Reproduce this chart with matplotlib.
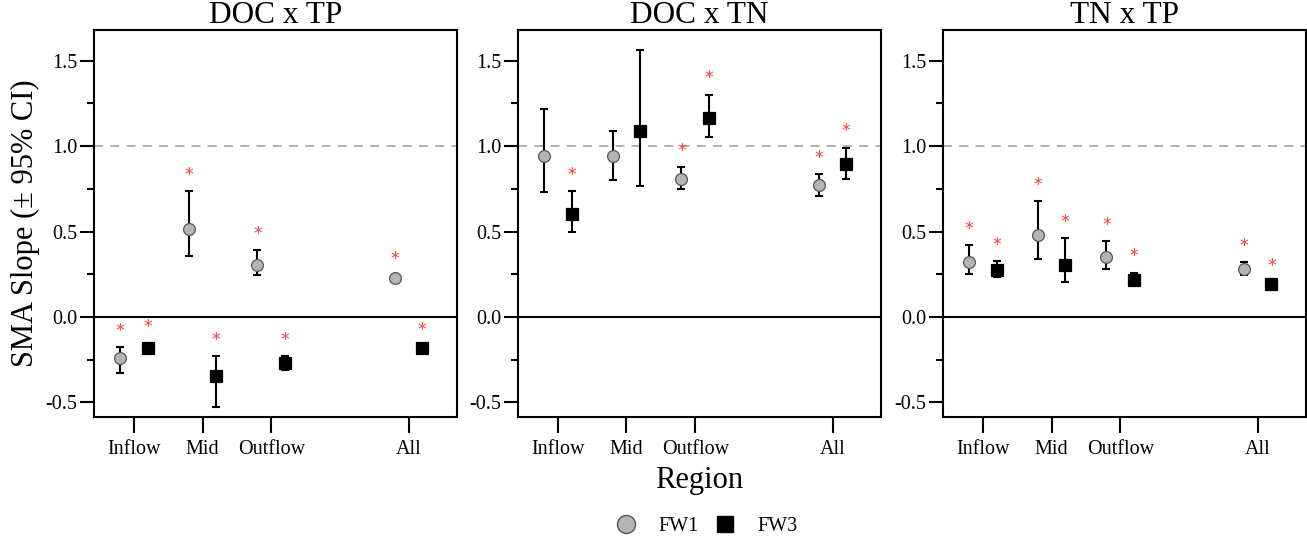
import numpy as np
import matplotlib.pyplot as plt
from matplotlib.lines import Line2D
from matplotlib.ticker import MultipleLocator

# --- DATOS ---
REGIONES = ['Inflow', 'Mid', 'Outflow', 'All']
POS_X = [1, 2, 3, 5]
PANELES = ['DOC x TP', 'DOC x TN', 'TN x TP']

# pendiente, límite inferior, límite superior (IC 95%), significancia
fw1_slope = [[-0.238, 0.516, 0.302, 0.228],
             [0.945, 0.940, 0.809, 0.772],
             [0.322, 0.480, 0.351, 0.279]]
fw1_lo = [[-0.330, 0.360, 0.244, 0.210],
          [0.731, 0.803, 0.749, 0.709],
          [0.250, 0.341, 0.279, 0.246]]
fw1_hi = [[-0.174, 0.737, 0.392, 0.245],
          [1.216, 1.090, 0.879, 0.838],
          [0.423, 0.677, 0.446, 0.323]]
fw1_sig = [[1, 1, 1, 1],
           [0, 0, 1, 1],
           [1, 1, 1, 1]]

fw3_slope = [[-0.180, -0.345, -0.267, -0.183],
             [0.602, 1.090, 1.165, 0.893],
             [0.275, 0.304, 0.217, 0.192]]
fw3_lo = [[-0.200, -0.524, -0.310, -0.193],
          [0.495, 0.766, 1.053, 0.809],
          [0.232, 0.205, 0.200, 0.182]]
fw3_hi = [[-0.155, -0.228, -0.228, -0.173],
          [0.737, 1.561, 1.302, 0.992],
          [0.327, 0.462, 0.260, 0.202]]
fw3_sig = [[1, 1, 1, 1],
           [1, 0, 1, 1],
           [1, 1, 1, 1]]

# --- ESTILO ---
plt.rcParams['font.family'] = ['Liberation Serif', 'DejaVu Serif']
ROJO = '#ff3b3b'
DX = 0.2

fig = plt.figure(figsize=(13.07, 5.40), dpi=100)
lefts = [0.0719, 0.3963, 0.7215]
axes = [fig.add_axes([l, 0.2278, 0.2775, 0.7166]) for l in lefts]


def dibuja_serie(ax, x, y, lo, hi, sig, marker, face, edge):
    y = np.array(y); lo = np.array(lo); hi = np.array(hi)
    ax.errorbar(x, y, yerr=[y - lo, hi - y], fmt='none', ecolor='black',
                elinewidth=1.5, capsize=3, capthick=1.5, zorder=3)
    ax.plot(x, y, linestyle='none', marker=marker, markersize=8.5,
            markerfacecolor=face, markeredgecolor=edge, markeredgewidth=0.9, zorder=4)
    for xi, h, s in zip(x, hi, sig):
        if s:
            ax.text(xi, h + 0.095, '*', color=ROJO, fontsize=12.5,
                    ha='center', va='center', family='DejaVu Sans', zorder=5)


for i, ax in enumerate(axes):
    ax.axhline(1.0, color='#aaaaaa', linestyle=(0, (5, 4)), linewidth=1.3, zorder=1)
    ax.axhline(0.0, color='black', linewidth=1.5, zorder=1)

    x1 = [p - DX for p in POS_X]
    x3 = [p + DX for p in POS_X]
    dibuja_serie(ax, x1, fw1_slope[i], fw1_lo[i], fw1_hi[i], fw1_sig[i],
                 'o', '#b4b4b4', '#555555')
    dibuja_serie(ax, x3, fw3_slope[i], fw3_lo[i], fw3_hi[i], fw3_sig[i],
                 's', 'black', 'black')

    ax.set_xlim(0.42, 5.7)
    ax.set_ylim(-0.585, 1.68)
    ax.set_xticks(POS_X)
    ax.set_xticklabels(REGIONES, fontsize=14.5)
    ax.yaxis.set_major_locator(MultipleLocator(0.5))
    ax.yaxis.set_minor_locator(MultipleLocator(0.25))
    ax.yaxis.set_major_formatter(plt.FuncFormatter(lambda v, p: f'{v:.1f}'))
    ax.tick_params(axis='y', which='major', length=10, width=1.5, labelsize=14.5, pad=2)
    ax.tick_params(axis='y', which='minor', length=5, width=1.5)
    ax.tick_params(axis='x', which='major', length=11.5, width=1.5, pad=5)
    for sp in ax.spines.values():
        sp.set_linewidth(1.5)
    ax.set_title(PANELES[i], fontsize=22.5, pad=0)

axes[0].set_ylabel('SMA Slope (\u00b1 95% CI)', fontsize=22, labelpad=4)
axes[1].set_xlabel('Region', fontsize=22, labelpad=5)

handles = [
    Line2D([], [], linestyle='none', marker='o', markersize=13,
           markerfacecolor='#b4b4b4', markeredgecolor='#555555', label='FW1'),
    Line2D([], [], linestyle='none', marker='s', markersize=12,
           markerfacecolor='black', markeredgecolor='black', label='FW3'),
]
fig.legend(handles=handles, loc='center', bbox_to_anchor=(0.537, 0.025), ncol=2,
           frameon=False, fontsize=14.5, handletextpad=0.6, columnspacing=0.3)

fig.savefig('out.png', dpi=100)
